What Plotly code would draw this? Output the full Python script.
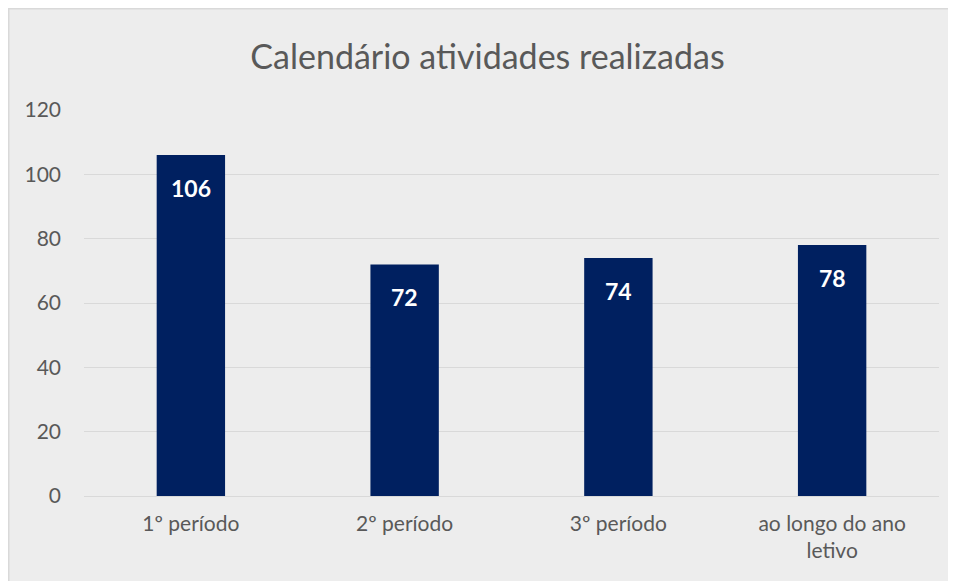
import plotly.graph_objects as go

categories = ["1º período", "2º período", "3º período", "ao longo do ano<br>letivo"]
values = [106, 72, 74, 78]
y_ticks = [0, 20, 40, 60, 80, 100, 120]

# page body adds an 8px margin; figure is sized/positioned to compensate
OFF = 8
W, H = 956 - OFF, 581 - OFF
L, R, T, B = 84 - OFF, 956 - 939, 110 - OFF, 581 - 496
pw, ph = W - L - R, H - T - B

def px(x):
    return (x - L) / pw

def py(y):
    return (H - B - y) / ph

BG = "#EDEDED"
fig = go.Figure()
fig.add_trace(go.Bar(x=categories, y=values, marker_color="#002060",
                     marker_line_width=0, hoverinfo="skip"))

for c, v in zip(categories, values):
    fig.add_annotation(x=c, y=v, text=f"<b>{v}</b>", showarrow=False,
                       yanchor="top", yshift=-17,
                       font=dict(family="Lato", size=23, color="white"))

shapes = [
    dict(type="line", xref="paper", yref="paper", x0=px(0.5), x1=px(0.5), y0=py(700), y1=py(0),
         line=dict(color="#D9D9D9", width=2)),
    dict(type="line", xref="paper", yref="paper", x0=px(0), x1=px(1000), y0=py(0.5), y1=py(0.5),
         line=dict(color="#D9D9D9", width=2)),
]

fig.update_layout(
    width=W, height=H,
    margin=dict(l=L, r=R, t=T, b=B, pad=0),
    paper_bgcolor=BG, plot_bgcolor=BG,
    shapes=shapes,
    bargap=0.68,
    showlegend=False,
    title=dict(text="Calendário atividades realizadas", x=(487.5 - OFF) / W, xanchor="center",
               xref="container", y=1 - (57 - OFF) / H, yanchor="middle", yref="container",
               font=dict(family="Lato", size=34, color="#595959")),
    font=dict(family="Lato", size=21, color="#595959"),
)
fig.update_yaxes(range=[0, 120], tickvals=y_ticks, showgrid=True, gridcolor="#D9D9D9",
                 gridwidth=1, zeroline=True, zerolinecolor="#D9D9D9", zerolinewidth=1,
                 showline=False, ticks="", ticklabelstandoff=22,
                 tickfont=dict(family="Lato", size=21, color="#595959"))
fig.update_xaxes(showline=False, ticks="", ticklabelstandoff=13,
                 tickfont=dict(family="Lato", size=21, color="#595959"))

fig.write_html("out.html")
